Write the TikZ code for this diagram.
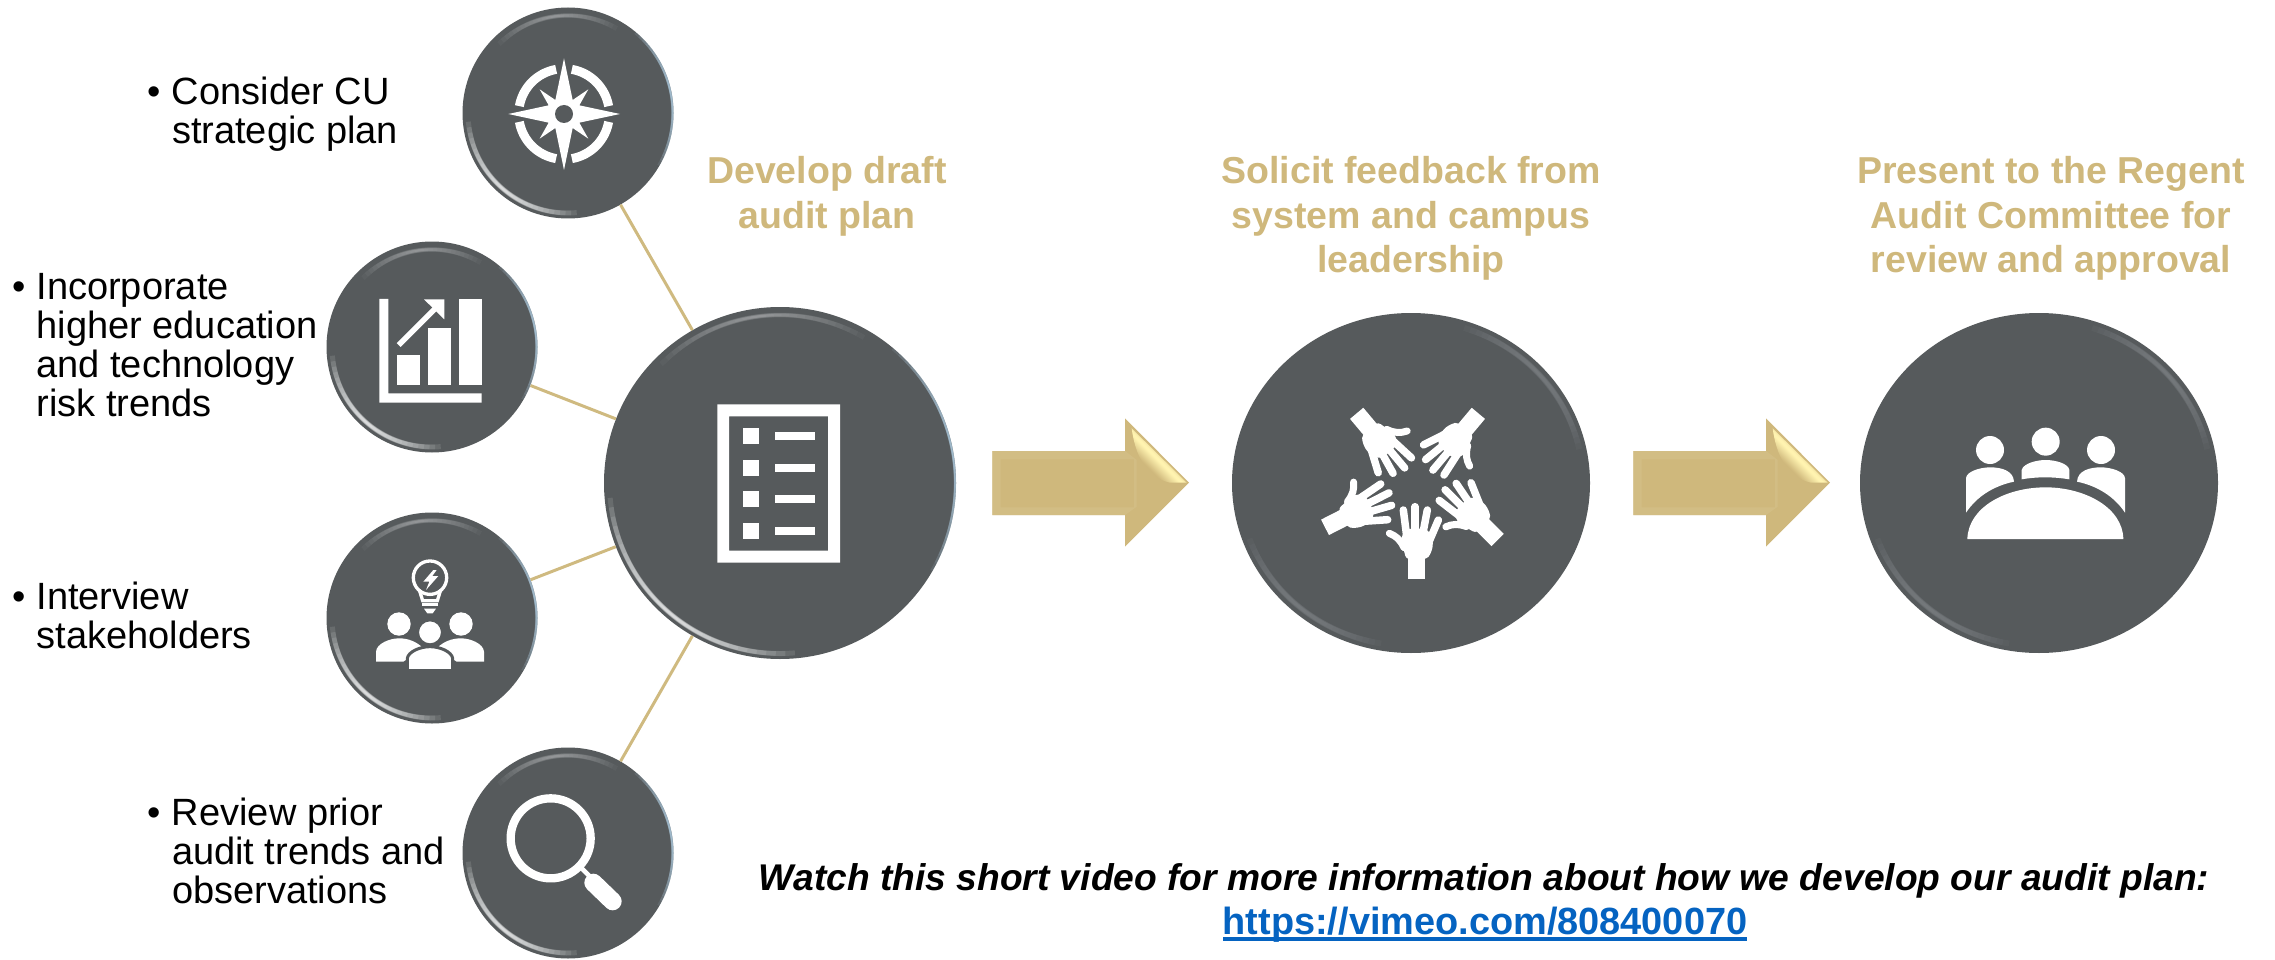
\documentclass[tikz,border=0pt]{standalone}
\usepackage{fontspec}
\usetikzlibrary{shapes.geometric,calc}
\setmainfont{Liberation Sans}
\definecolor{cugold}{HTML}{CFB87C}
\definecolor{cudark}{HTML}{565A5C}
\definecolor{goldline}{HTML}{CFBA80}
\definecolor{goldlight}{HTML}{D4C088}
\definecolor{goldpale}{HTML}{FFF3B0}
\definecolor{linkblue}{HTML}{0563C1}
\definecolor{rimblue}{HTML}{B4D2E6}
\definecolor{softrim}{HTML}{868A8D}
\pgfdeclarehorizontalshading{curlshade}{100bp}{color(0bp)=(cugold); color(35bp)=(cugold); color(46bp)=(goldpale); color(48bp)=(goldpale); color(56bp)=(cugold); color(100bp)=(cugold)}
\newcommand\glint[7]{% rx ry start end colour width opacity
  \foreach \k in {0,1,...,13}{
    \pgfmathsetmacro\ga{#3+(#4-#3)*\k/28}
    \pgfmathsetmacro\gb{#4-(#4-#3)*\k/28}
    \pgfmathsetmacro\gw{#6*(1-\k/20)}
    \draw[draw=#5,opacity=#7,line width=\gw pt] (\ga:#1pt and #2pt) arc[start angle=\ga,end angle=\gb,x radius=#1pt,y radius=#2pt];
  }}
\newcommand\shinerim[3]{% cx cy r
  \begin{scope}[shift={(#1,#2)}]
    \pgfmathsetmacro\ra{#3-8}\pgfmathsetmacro\rb{#3-5.5}\pgfmathsetmacro\rc{#3-1}
    \glint{\ra}{\ra}{60}{135}{white}{5}{.035}
    \glint{\rb}{\rb}{185}{275}{white}{5}{.11}
    \glint{\rc}{\rc}{-30}{50}{rimblue}{2.5}{.12}
  \end{scope}}
\newcommand\softrim[3]{% cx cy r-ish
  \begin{scope}[shift={(#1,#2)}]
    \pgfmathsetmacro\ra{#3-7}\pgfmathsetmacro\rb{170-7}
    \glint{\ra}{\rb}{12}{72}{softrim}{6}{.09}
    \glint{\ra}{\rb}{200}{260}{softrim}{6}{.09}
  \end{scope}}
\newcommand\handshape{%
  \fill[white] (-26,0) rectangle (26,-70);
  \fill[white] plot[smooth cycle] coordinates {(-26,-62) (-38,-85) (-45,-125) (-25,-150) (25,-150) (45,-130) (48,-100) (40,-75) (26,-62)};
  \draw[white,line width=7.5pt,line cap=round] (-30,-130) -- (-40,-208);
  \draw[white,line width=7.5pt,line cap=round] (-5,-140) -- (-5,-218);
  \draw[white,line width=7.5pt,line cap=round] (18,-135) -- (32,-208);
  \draw[white,line width=7.5pt,line cap=round] (38,-115) -- (65,-178);
  \draw[white,line width=7pt,line cap=round] (-38,-95) .. controls (-50,-120) and (-62,-130) .. (-82,-138);
}
\newcommand\goldarrow[1]{%
  \begin{scope}[iconat={#1}]
    \fill[cugold] (37,153) -- (435,153) -- (435,55) -- (627,248) -- (435,440) -- (435,345) -- (37,345) -- cycle;
    \fill[goldlight,even odd rule,opacity=.7] (37,153) -- (435,153) -- (470,180) -- (470,320) -- (435,345) -- (37,345) -- cycle (62,178) rectangle (462,322);
    \shade[shading=curlshade,shading angle=45] (455,85) .. controls (465,160) and (495,232) .. (570,248) -- (620,248) -- cycle;
  \end{scope}}
\tikzset{
  iconat/.style={shift={(#1)},x=0.33333pt,y=-0.33333pt},
  bubble/.style={circle,fill=cudark,draw=none,inner sep=0pt,minimum size=#1},
  oval/.style={ellipse,fill=cudark,draw=none,inner sep=0pt,minimum width=358pt,minimum height=340pt},
  spoke/.style={draw=goldline,line width=3pt},
  bodytext/.style={font=\fontsize{38}{39.3}\selectfont,anchor=base west,inner sep=0pt,text=black},
  headtext/.style={font=\fontsize{37.5}{44.5}\selectfont\bfseries,anchor=base,inner sep=0pt,text=cugold},
}
\begin{document}
\begin{tikzpicture}[x=1pt,y=-1pt]
\useasboundingbox (0,0) rectangle (2275,960);
% circles
\node[bubble=352pt] (main) at (780,483) {};
\node[bubble=211pt] (compass) at (568,113) {};
\node[bubble=211pt] (chart) at (432,347) {};
\node[bubble=211pt] (people) at (432,618) {};
\node[bubble=211pt] (lens) at (568,853) {};
\node[oval] (hands) at (1411,483) {};
\node[oval] (table) at (2039,483) {};
% connectors
\draw[spoke] (compass) -- (main);
\draw[spoke] (chart) -- (main);
\draw[spoke] (people) -- (main);
\draw[spoke] (lens) -- (main);
% rims
\shinerim{780}{483}{176}
\shinerim{568}{113}{105.5}
\shinerim{432}{347}{105.5}
\shinerim{432}{618}{105.5}
\shinerim{568}{853}{105.5}
\softrim{1411}{483}{179}
\softrim{2039}{483}{179}
% compass icon
\begin{scope}[iconat={440,0}]
  \foreach \q in {0,90,180,270}{
    \pgfmathsetmacro\qa{\q+10}\pgfmathsetmacro\qb{\q+80}
    \draw[white,line width=9pt] (372,342) ++(\qa:45.3pt) arc[start angle=\qa,end angle=\qb,radius=45.3pt];
  }
  \fill[white] (372,175) -- (398,300) -- (445,268) -- (418,316) -- (540,342) -- (418,368) -- (445,416) -- (398,384) -- (372,510) -- (346,384) -- (299,416) -- (326,368) -- (205,342) -- (326,316) -- (299,268) -- (346,300) -- cycle;
  \fill[cudark] (372,342) circle[radius=9pt];
\end{scope}
% chart icon
\begin{scope}[iconat={320,230}]
  \fill[white] (178,207) -- (205,207) -- (205,490) -- (485,490) -- (485,518) -- (178,518) -- cycle;
  \fill[white] (231,375) rectangle (300,465);
  \fill[white] (324,293) rectangle (393,465);
  \fill[white] (417,207) rectangle (486,465);
  \draw[white,line width=5.5pt] (236,345) -- (355,226);
  \fill[white] (312,208) -- (373,208) -- (373,268) -- cycle;
\end{scope}
% people and bulb icon
\begin{scope}[iconat={320,510}]
  \draw[white,line width=3.3pt] (330,203) circle[radius=16.7pt];
  \draw[white,line width=3.3pt] (298,240) -- (308,272) -- (352,272) -- (362,240);
  \fill[white] (305,280) rectangle (355,289);
  \fill[white] (312,296) -- (348,296) -- (338,310) -- (322,310) -- cycle;
  \fill[white] (340,180) -- (310,215) -- (328,215) -- (318,240) -- (355,198) -- (337,198) -- (350,180) -- cycle;
  \fill[white] (237,342) circle[radius=11.7pt];
  \fill[white] (423,342) circle[radius=11.7pt];
  \fill[white] (168,455) -- (168,425) .. controls (170,400) and (210,385) .. (237,385) .. controls (265,385) and (290,395) .. (310,415) -- (250,455) -- cycle;
  \fill[white] (492,455) -- (492,425) .. controls (490,400) and (450,385) .. (423,385) .. controls (395,385) and (370,395) .. (350,415) -- (410,455) -- cycle;
  \filldraw[fill=white,draw=cudark,line width=3pt] (330,367) circle[radius=12.5pt];
  \filldraw[fill=white,draw=cudark,line width=3pt] (262,482) -- (262,445) .. controls (265,425) and (300,410) .. (330,410) .. controls (360,410) and (395,425) .. (398,445) -- (398,482) -- cycle;
\end{scope}
% magnifier icon
\begin{scope}[iconat={460,740}]
  \draw[white,line width=8.3pt] (272,295) circle[radius=40pt];
  \draw[white,line width=4.5pt] (365,385) -- (400,420);
  \draw[white,line width=18pt,line cap=round] (400,428) -- (458,484);
\end{scope}
% checklist icon
\begin{scope}[iconat={600,300}]
  \fill[white,even odd rule] (352,313) rectangle (720,788) (387,349) rectangle (684,752);
  \foreach \t/\d in {384/396,480/492,573/585,669/681}{
    \fill[white] (429,\t) rectangle +(48,48);
    \fill[white] (525,\d) rectangle +(120,24);
  }
\end{scope}
% hands icon
\begin{scope}[iconat={1230,300}]
  \foreach \wx/\wy/\ang in {560/838/0,285/682/-63,380/340/-140,745/340/-220,803/720/45}{
    \begin{scope}[shift={(\wx,\wy)},rotate=\ang]
      \handshape
    \end{scope}
  }
\end{scope}
% committee icon
\begin{scope}[iconat={1860,300}]
  \fill[white] (390,450) circle[radius=14pt];
  \fill[white] (557,425) circle[radius=14pt];
  \fill[white] (723,450) circle[radius=14pt];
  \fill[white] (322,717) .. controls (325,620) and (440,562) .. (557,562) .. controls (670,562) and (788,620) .. (790,717) -- cycle;
  \fill[white] (318,638) -- (318,535) .. controls (318,515) and (360,502) .. (390,502) .. controls (425,502) and (460,512) .. (462,545) .. controls (400,558) and (350,590) .. (318,638) -- cycle;
  \fill[white] (795,638) -- (795,535) .. controls (795,515) and (753,502) .. (723,502) .. controls (688,502) and (653,512) .. (651,545) .. controls (713,558) and (763,590) .. (795,638) -- cycle;
  \fill[white] (485,538) -- (485,510) .. controls (490,490) and (530,480) .. (557,480) .. controls (585,480) and (625,490) .. (628,510) -- (628,538) .. controls (580,530) and (530,530) .. (485,538) -- cycle;
\end{scope}
% arrows
\goldarrow{980,400}
\goldarrow{1621,400}
% text
\node[bodytext] (t1) at (147.5,104.5) {\begin{tabular}[t]{@{}l@{\hspace{11pt}}l@{}}•&Consider CU\\&strategic plan\end{tabular}};
\node[bodytext] (t2) at (12.5,299) {\begin{tabular}[t]{@{}l@{\hspace{10.5pt}}l@{}}•&Incorporate\\&higher education\\&and technology\\&risk trends\end{tabular}};
\node[bodytext] (t3) at (12.5,609) {\begin{tabular}[t]{@{}l@{\hspace{10.5pt}}l@{}}•&Interview\\&stakeholders\end{tabular}};
\node[bodytext] (t4) at (147.5,825) {\begin{tabular}[t]{@{}l@{\hspace{11pt}}l@{}}•&Review prior\\&audit trends and\\&observations\end{tabular}};
\node[headtext] (h1) at (827,184) {\begin{tabular}[t]{@{}c@{}}Develop draft\\audit plan\end{tabular}};
\node[headtext] (h2) at (1411,184) {\begin{tabular}[t]{@{}c@{}}Solicit feedback from\\system and campus\\leadership\end{tabular}};
\node[headtext] (h3) at (2051,184) {\begin{tabular}[t]{@{}c@{}}Present to the Regent\\Audit Committee for\\review and approval\end{tabular}};
\node[font=\fontsize{37.2}{44}\selectfont\bfseries\itshape,anchor=base,inner sep=0pt] (w) at (1484,890) {Watch this short video for more information about how we develop our audit plan:};
\node[font=\fontsize{37.9}{44}\selectfont\bfseries,text=linkblue,anchor=base,inner sep=0pt] (u) at (1485,934) {https://vimeo.com/808400070};
\fill[linkblue] ($(u.base west)+(0,3)$) rectangle ($(u.base east)+(0,7)$);
\end{tikzpicture}
\end{document}
